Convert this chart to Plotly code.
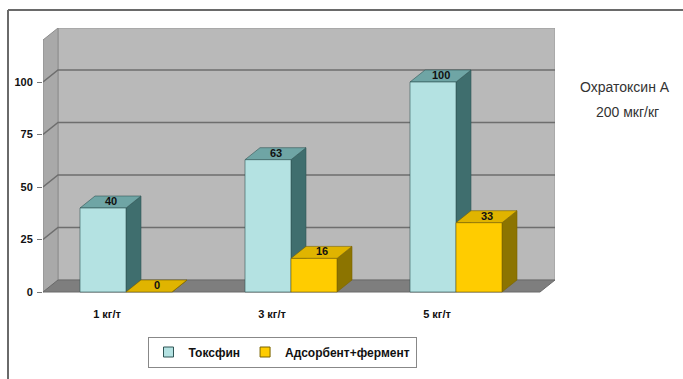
import plotly.graph_objects as go

# ---- data ----
categories = ["1 кг/т", "3 кг/т", "5 кг/т"]
series_names = ["Токсфин", "Адсорбент+фермент"]
toksfin = [40, 63, 100]
adsorbent = [0, 16, 33]
y_ticks = [0, 25, 50, 75, 100]
note_lines = ["Охратоксин А", "200 мкг/кг"]

# ---- geometry (pixel-based layout constants) ----
W, H = 683, 379
L, R, T, B = 43, 555, 28, 296          # plot area in pixels
Y0PX, PX_PER_Y = 292, 2.1               # y=0 at pixel 292, 2.1 px per unit
C0PX, PX_PER_X = 126, 165               # category 0 at pixel 126
DXPX, DYPX = 15, 12                     # 3D depth in pixels

def xr(px):
    return (px - C0PX) / PX_PER_X

def yr(py):
    return (Y0PX - py) / PX_PER_Y

x_range = [xr(L), xr(R)]
y_range = [yr(B), yr(T)]
dx = DXPX / PX_PER_X
dy = DYPX / PX_PER_Y
bw = 46 / PX_PER_X

FONT = "Liberation Sans, Arial"

styles = [
    dict(front="#b4e2e2", side="#3f6e6e", top="#6fa5a5", line="#2f5555"),
    dict(front="#ffcc00", side="#8c7400", top="#e0b400", line="#7a6300"),
]

fig = go.Figure()

def poly(xs, ys, color, line):
    fig.add_trace(go.Scatter(
        x=xs + [xs[0]], y=ys + [ys[0]], mode="lines", fill="toself",
        fillcolor=color, line=dict(color=line, width=0.6),
        hoverinfo="skip", showlegend=False))

series = [toksfin, adsorbent]
offsets = [-bw, 0.0]
for i, cat in enumerate(categories):
    for s, vals in enumerate(series):
        st = styles[s]
        v = vals[i]
        x0 = i + offsets[s]
        x1 = x0 + bw
        # side
        poly([x1, x1 + dx, x1 + dx, x1], [0, dy, v + dy, v], st["side"], st["line"])
        # top
        poly([x0, x1, x1 + dx, x0 + dx], [v, v, v + dy, v + dy], st["top"], st["line"])
        # front
        if v > 0:
            poly([x0, x1, x1, x0], [0, 0, v, v], st["front"], st["line"])
        # value label
        fig.add_annotation(x=(x0 + x1) / 2 + dx / 2, y=v + dy * 0.6, text=f"<b>{v}</b>",
                           showarrow=False, font=dict(size=11, color="#111111", family=FONT))

# legend entries
for s, name in enumerate(series_names):
    fig.add_trace(go.Scatter(
        x=[None], y=[None], mode="markers", name=f"<b>{name}</b>",
        marker=dict(symbol="square", size=10, color=styles[s]["front"],
                    line=dict(color=styles[s]["line"], width=1))))

shapes = []
# back wall
shapes.append(dict(type="rect", xref="x", yref="y", x0=xr(L) + dx, x1=xr(R),
                   y0=yr(Y0PX - DYPX), y1=yr(T), fillcolor="#b9b9b9",
                   line=dict(color="#9a9a9a", width=1), layer="below"))
# left wall
lx0, lx1 = xr(L), xr(L) + dx
shapes.append(dict(type="path", xref="x", yref="y",
                   path=f"M{lx0},{yr(Y0PX)} L{lx0},{yr(T + DYPX)} L{lx1},{yr(T)} L{lx1},{yr(Y0PX - DYPX)} Z",
                   fillcolor="#a9a9a9", line=dict(color="#8c8c8c", width=1), layer="below"))
# floor
fx1 = xr(R) - dx
shapes.append(dict(type="path", xref="x", yref="y",
                   path=f"M{lx0},{yr(Y0PX)} L{fx1},{yr(Y0PX)} L{xr(R)},{yr(Y0PX - DYPX)} L{lx1},{yr(Y0PX - DYPX)} Z",
                   fillcolor="#7e7e7e", line=dict(color="#6a6a6a", width=1), layer="below"))
# gridlines
for v in y_ticks[1:]:
    shapes.append(dict(type="path", xref="x", yref="y",
                       path=f"M{lx0},{v} L{lx1},{v + dy} L{xr(R)},{v + dy}",
                       line=dict(color="#6e6e6e", width=1.5), layer="below"))
# outer frame lines
shapes.append(dict(type="line", xref="paper", yref="paper",
                   x0=(8 - L) / (R - L), x1=(W - L) / (R - L),
                   y0=(B - 10) / (B - T), y1=(B - 10) / (B - T),
                   line=dict(color="#6a6a6a", width=2)))
shapes.append(dict(type="line", xref="paper", yref="paper",
                   x0=(8 - L) / (R - L), x1=(8 - L) / (R - L),
                   y0=(B - 10) / (B - T), y1=(B - H) / (B - T),
                   line=dict(color="#6a6a6a", width=2)))

fig.add_annotation(xref="paper", yref="paper", x=(625 - L) / (R - L), y=(B - 87) / (B - T),
                   text=note_lines[0], showarrow=False, xanchor="center", yanchor="middle",
                   font=dict(size=14, color="#333333", family=FONT))
fig.add_annotation(xref="paper", yref="paper", x=(627 - L) / (R - L), y=(B - 112) / (B - T),
                   text=note_lines[1], showarrow=False, xanchor="center", yanchor="middle",
                   font=dict(size=14, color="#333333", family=FONT))

fig.update_layout(
    width=W, height=H,
    margin=dict(l=L, r=W - R, t=T, b=H - B, pad=0),
    paper_bgcolor="white", plot_bgcolor="rgba(0,0,0,0)",
    shapes=shapes,
    showlegend=True,
    legend=dict(orientation="h", x=(282 - L) / (R - L), y=(B - 352) / (B - T),
                xanchor="center", yanchor="middle", bordercolor="#888888", borderwidth=1,
                bgcolor="white", font=dict(size=12, color="#111111", family=FONT),
                itemwidth=30, tracegroupgap=0),
    xaxis=dict(range=x_range, tickvals=list(range(len(categories))),
               ticktext=[f"<b>{c}</b>" for c in categories], showgrid=False, zeroline=False,
               showline=False, ticks="", ticklabelshift=-19, ticklabelstandoff=10,
               tickfont=dict(size=11, color="#111111", family=FONT),
               fixedrange=True),
    yaxis=dict(range=y_range, tickvals=y_ticks, ticktext=[f"<b>{t}</b>" for t in y_ticks],
               showgrid=False, zeroline=False, showline=False, ticks="outside", ticklen=5,
               tickcolor="#777777", ticklabelstandoff=2,
               tickfont=dict(size=11, color="#111111", family=FONT),
               fixedrange=True),
)

fig.write_html("out.html")
